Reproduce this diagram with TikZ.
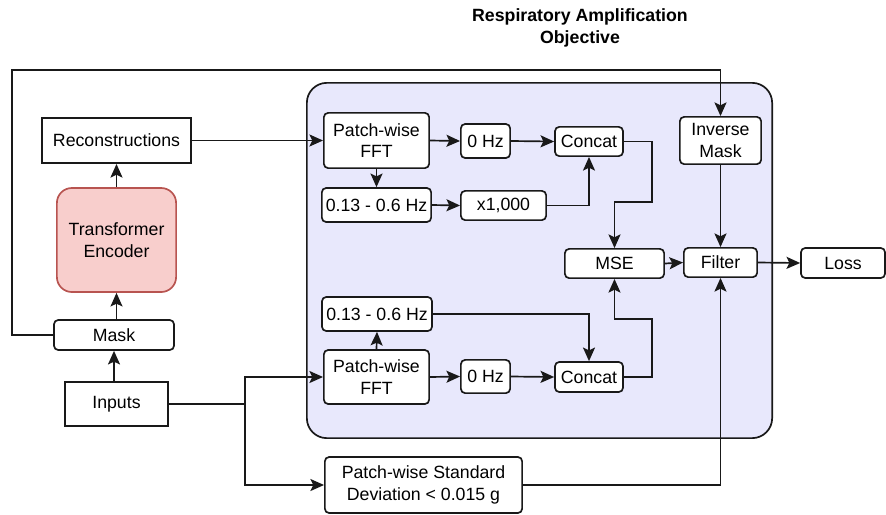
\documentclass[tikz,border=0pt]{standalone}
\usepackage{xcolor}
\usepackage{fontspec}
\setmainfont{Liberation Sans}
\usepackage{tikz}
\usetikzlibrary{arrows.meta,positioning}

\definecolor{panelfill}{RGB}{232,232,252}
\definecolor{encfill}{RGB}{248,206,204}
\definecolor{encline}{RGB}{184,84,80}

\begin{document}
\begin{tikzpicture}[
  x=0.025cm, y=-0.025cm,
  font=\fontsize{12.6}{15.5}\selectfont,
  line width=1.2pt,
  sqbox/.style={draw=black!90, line width=1.2pt, fill=white, align=center, inner sep=1pt},
  rbox/.style={sqbox, rounded corners=3pt},
  panel/.style={draw=black!90, line width=1.2pt, fill=panelfill, rounded corners=0.5cm, inner sep=0pt},
  arrow/.style={-{Stealth[length=0.34cm,width=0.3cm,inset=0.07cm]}, draw=black!90, line width=1.2pt}
]
\useasboundingbox (0,0) rectangle (886,514);

\node[font=\fontsize{12.6}{15.5}\selectfont\bfseries, align=center] (title) at (580,28) {Respiratory Amplification\\Objective};
\node[panel, minimum width=11.63cm, minimum height=8.88cm] (obj) at (539.5,260.5) {};

\node[sqbox, minimum width=3.73cm, minimum height=1.13cm] (recon) at (116.5,140.5) {Reconstructions};
\node[draw=encline, line width=1.2pt, fill=encfill, rounded corners=0.375cm, align=center, minimum width=2.98cm, minimum height=2.6cm] (enc) at (116.5,240) {Transformer\\Encoder};
\node[rbox, minimum width=3cm, minimum height=0.75cm] (mask) at (114,335) {Mask};
\node[sqbox, minimum width=2.58cm, minimum height=1.1cm] (inputs) at (116.5,404) {Inputs};

\node[rbox, minimum width=2.63cm, minimum height=1.38cm] (fftA) at (376.5,140.5) {Patch-wise\\FFT};
\node[rbox, minimum width=1.23cm, minimum height=0.85cm] (dcA) at (485.5,141) {0 Hz};
\node[rbox, minimum width=2.73cm, minimum height=0.85cm] (bandA) at (376.5,205) {0.13 - 0.6 Hz};
\node[rbox, minimum width=2.13cm, minimum height=0.73cm] (ampA) at (503.5,205.5) {x1,000};
\node[rbox, minimum width=1.7cm, minimum height=0.73cm] (catA) at (589,141.5) {Concat};

\node[rbox, minimum width=2.75cm, minimum height=0.85cm] (bandB) at (377,314) {0.13 - 0.6 Hz};
\node[rbox, minimum width=2.63cm, minimum height=1.35cm] (fftB) at (376.5,377) {Patch-wise\\FFT};
\node[rbox, minimum width=1.23cm, minimum height=0.83cm] (dcB) at (485.5,376.5) {0 Hz};
\node[rbox, minimum width=1.7cm, minimum height=0.75cm] (catB) at (589,377) {Concat};

\node[rbox, minimum width=2.48cm, minimum height=0.73cm] (mse) at (614.5,263.5) {MSE};
\node[rbox, minimum width=2.03cm, minimum height=1.18cm] (inv) at (720.5,140.5) {Inverse\\Mask};
\node[rbox, minimum width=1.83cm, minimum height=0.73cm] (filt) at (720.5,262.5) {Filter};
\node[rbox, minimum width=2.1cm, minimum height=0.75cm] (loss) at (843,263) {Loss};
\node[rbox, minimum width=4.93cm, minimum height=1.4cm] (std) at (423.5,485) {Patch-wise Standard\\Deviation < 0.015 g};

\coordinate (loopL) at (12,70);
\coordinate (split) at (245,404);
\coordinate (bendA) at (652,202);
\coordinate (bendB) at (652,319);

\draw[arrow] (inputs.north -| mask.south) -- (mask.south);
\draw[arrow] (mask.north -| enc.south) -- (enc.south);
\draw[arrow] (enc.north) -- (recon.south);
\draw[arrow] (mask.west) -| (loopL) -| (inv.north);
\draw[arrow] (recon.east) -- (fftA.west);

\draw[arrow] (fftA.east) -- (dcA.west);
\draw[arrow] (dcA.east) -- (catA.west);
\draw[arrow] (fftA.south) -- (bandA.north);
\draw[arrow] (bandA.east) -- (ampA.west);
\draw[arrow] (ampA.east) -| (catA.south);
\draw[arrow] (catA.east) -| (bendA) -| (mse.north);

\draw[draw=black!90] (inputs.east) -- (split);
\draw[arrow] (split) |- (fftB.west);
\draw[arrow] (split) |- (std.west);
\draw[arrow] (fftB.north) -- (bandB.south);
\draw[arrow] (fftB.east) -- (dcB.west);
\draw[arrow] (dcB.east) -- (catB.west);
\draw[arrow] (bandB.east) -| (catB.north);
\draw[arrow] (catB.east) -| (bendB) -| (mse.south);

\draw[arrow] (mse.east) -- (filt.west);
\draw[arrow] (inv.south) -- (filt.north);
\draw[arrow] (std.east) -| (filt.south);
\draw[arrow] (filt.east) -- (loss.west);
\end{tikzpicture}
\end{document}
